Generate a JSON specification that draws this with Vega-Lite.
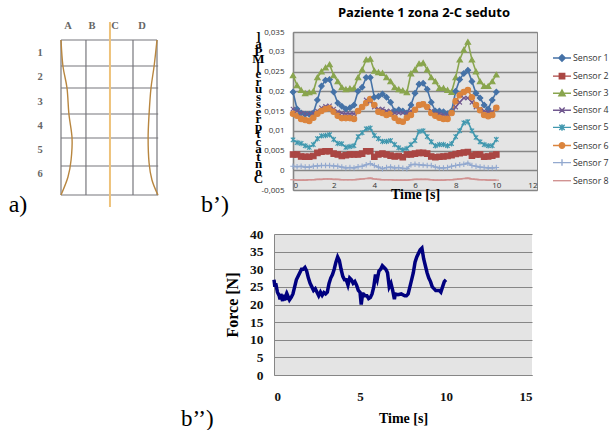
{"$schema":"https://vega.github.io/schema/vega-lite/v6.json","padding":{"left":0,"top":6,"right":0,"bottom":0},"background":"white","bounds":"flush","spacing":202,
"config":{"view":{"stroke":null},"concat":{"spacing":0},"legend":{"orient":"none","legendX":259,"legendY":16,"symbolSize":324,"rowPadding":1.1,"labelFont":"Open Sans","labelFontSize":8.8,"labelColor":"#333333","labelOffset":1,"symbolStrokeWidth":1.4,"symbolOpacity":1}},
"datasets":{
"sensors":[
{"t":0,"Sensor 1":0.0198,"Sensor 2":0.004,"Sensor 3":0.024,"Sensor 4":0.0155,"Sensor 5":0.0077,"Sensor 6":0.0143,"Sensor 7":0.001,"Sensor 8":-0.0024},
{"t":0.2,"Sensor 1":0.0155,"Sensor 2":0.004,"Sensor 3":0.0215,"Sensor 4":0.015,"Sensor 5":0.007,"Sensor 6":0.0138,"Sensor 7":0.0009,"Sensor 8":-0.0025},
{"t":0.4,"Sensor 1":0.0145,"Sensor 2":0.0035,"Sensor 3":0.0203,"Sensor 4":0.0145,"Sensor 5":0.0068,"Sensor 6":0.013,"Sensor 7":0.001,"Sensor 8":-0.0025},
{"t":0.6,"Sensor 1":0.0142,"Sensor 2":0.0034,"Sensor 3":0.0195,"Sensor 4":0.0143,"Sensor 5":0.0062,"Sensor 6":0.0127,"Sensor 7":0.0008,"Sensor 8":-0.0025},
{"t":0.8,"Sensor 1":0.0142,"Sensor 2":0.0034,"Sensor 3":0.0197,"Sensor 4":0.0143,"Sensor 5":0.0058,"Sensor 6":0.0125,"Sensor 7":0.0008,"Sensor 8":-0.0024},
{"t":1,"Sensor 1":0.0145,"Sensor 2":0.0036,"Sensor 3":0.02,"Sensor 4":0.0145,"Sensor 5":0.0065,"Sensor 6":0.0133,"Sensor 7":0.001,"Sensor 8":-0.0024},
{"t":1.2,"Sensor 1":0.0178,"Sensor 2":0.0044,"Sensor 3":0.0235,"Sensor 4":0.015,"Sensor 5":0.008,"Sensor 6":0.0143,"Sensor 7":0.0011,"Sensor 8":-0.0023},
{"t":1.4,"Sensor 1":0.0213,"Sensor 2":0.0047,"Sensor 3":0.025,"Sensor 4":0.0158,"Sensor 5":0.0087,"Sensor 6":0.015,"Sensor 7":0.0012,"Sensor 8":-0.0023},
{"t":1.6,"Sensor 1":0.0228,"Sensor 2":0.0048,"Sensor 3":0.026,"Sensor 4":0.0162,"Sensor 5":0.0088,"Sensor 6":0.0155,"Sensor 7":0.0012,"Sensor 8":-0.0022},
{"t":1.8,"Sensor 1":0.023,"Sensor 2":0.0048,"Sensor 3":0.0268,"Sensor 4":0.0163,"Sensor 5":0.009,"Sensor 6":0.0157,"Sensor 7":0.0012,"Sensor 8":-0.0022},
{"t":2,"Sensor 1":0.0198,"Sensor 2":0.0042,"Sensor 3":0.024,"Sensor 4":0.0155,"Sensor 5":0.0078,"Sensor 6":0.0148,"Sensor 7":0.0011,"Sensor 8":-0.0023},
{"t":2.2,"Sensor 1":0.017,"Sensor 2":0.004,"Sensor 3":0.0225,"Sensor 4":0.0148,"Sensor 5":0.0068,"Sensor 6":0.0138,"Sensor 7":0.001,"Sensor 8":-0.0023},
{"t":2.4,"Sensor 1":0.0162,"Sensor 2":0.0036,"Sensor 3":0.021,"Sensor 4":0.0145,"Sensor 5":0.0067,"Sensor 6":0.0132,"Sensor 7":0.0008,"Sensor 8":-0.0024},
{"t":2.6,"Sensor 1":0.0155,"Sensor 2":0.0038,"Sensor 3":0.0205,"Sensor 4":0.0143,"Sensor 5":0.0058,"Sensor 6":0.0132,"Sensor 7":0.0006,"Sensor 8":-0.0024},
{"t":2.8,"Sensor 1":0.0158,"Sensor 2":0.004,"Sensor 3":0.0207,"Sensor 4":0.0143,"Sensor 5":0.006,"Sensor 6":0.0132,"Sensor 7":0.0007,"Sensor 8":-0.0024},
{"t":3,"Sensor 1":0.0165,"Sensor 2":0.004,"Sensor 3":0.0208,"Sensor 4":0.0143,"Sensor 5":0.0062,"Sensor 6":0.013,"Sensor 7":0.0006,"Sensor 8":-0.0024},
{"t":3.2,"Sensor 1":0.02,"Sensor 2":0.004,"Sensor 3":0.0235,"Sensor 4":0.015,"Sensor 5":0.0085,"Sensor 6":0.015,"Sensor 7":0.0009,"Sensor 8":-0.0023},
{"t":3.4,"Sensor 1":0.021,"Sensor 2":0.0042,"Sensor 3":0.0255,"Sensor 4":0.016,"Sensor 5":0.0095,"Sensor 6":0.016,"Sensor 7":0.001,"Sensor 8":-0.0022},
{"t":3.6,"Sensor 1":0.0235,"Sensor 2":0.0048,"Sensor 3":0.028,"Sensor 4":0.0178,"Sensor 5":0.0105,"Sensor 6":0.017,"Sensor 7":0.0014,"Sensor 8":-0.0021},
{"t":3.8,"Sensor 1":0.0235,"Sensor 2":0.0048,"Sensor 3":0.0282,"Sensor 4":0.0175,"Sensor 5":0.0107,"Sensor 6":0.018,"Sensor 7":0.0017,"Sensor 8":-0.002},
{"t":4,"Sensor 1":0.0185,"Sensor 2":0.0034,"Sensor 3":0.0252,"Sensor 4":0.016,"Sensor 5":0.0088,"Sensor 6":0.0165,"Sensor 7":0.0012,"Sensor 8":-0.0022},
{"t":4.2,"Sensor 1":0.0187,"Sensor 2":0.004,"Sensor 3":0.0248,"Sensor 4":0.0155,"Sensor 5":0.008,"Sensor 6":0.0148,"Sensor 7":0.0008,"Sensor 8":-0.0023},
{"t":4.4,"Sensor 1":0.0193,"Sensor 2":0.0042,"Sensor 3":0.0246,"Sensor 4":0.0155,"Sensor 5":0.0073,"Sensor 6":0.0145,"Sensor 7":0.0004,"Sensor 8":-0.0024},
{"t":4.6,"Sensor 1":0.0185,"Sensor 2":0.004,"Sensor 3":0.0235,"Sensor 4":0.015,"Sensor 5":0.0073,"Sensor 6":0.014,"Sensor 7":0.0007,"Sensor 8":-0.0024},
{"t":4.8,"Sensor 1":0.0172,"Sensor 2":0.0037,"Sensor 3":0.0225,"Sensor 4":0.015,"Sensor 5":0.0075,"Sensor 6":0.0143,"Sensor 7":0.0008,"Sensor 8":-0.0024},
{"t":5,"Sensor 1":0.015,"Sensor 2":0.0035,"Sensor 3":0.021,"Sensor 4":0.0145,"Sensor 5":0.0065,"Sensor 6":0.0133,"Sensor 7":0.0006,"Sensor 8":-0.0025},
{"t":5.2,"Sensor 1":0.0153,"Sensor 2":0.0036,"Sensor 3":0.0205,"Sensor 4":0.0145,"Sensor 5":0.0057,"Sensor 6":0.0125,"Sensor 7":0.0007,"Sensor 8":-0.0025},
{"t":5.4,"Sensor 1":0.015,"Sensor 2":0.0033,"Sensor 3":0.0202,"Sensor 4":0.0145,"Sensor 5":0.0052,"Sensor 6":0.0123,"Sensor 7":0.0005,"Sensor 8":-0.0025},
{"t":5.6,"Sensor 1":0.0145,"Sensor 2":0.004,"Sensor 3":0.0197,"Sensor 4":0.0145,"Sensor 5":0.0055,"Sensor 6":0.0133,"Sensor 7":0.0004,"Sensor 8":-0.0025},
{"t":5.8,"Sensor 1":0.0165,"Sensor 2":0.004,"Sensor 3":0.0245,"Sensor 4":0.015,"Sensor 5":0.0065,"Sensor 6":0.014,"Sensor 7":0.0014,"Sensor 8":-0.0024},
{"t":6,"Sensor 1":0.0195,"Sensor 2":0.0042,"Sensor 3":0.0255,"Sensor 4":0.0155,"Sensor 5":0.0075,"Sensor 6":0.0153,"Sensor 7":0.0015,"Sensor 8":-0.0023},
{"t":6.2,"Sensor 1":0.0218,"Sensor 2":0.0044,"Sensor 3":0.027,"Sensor 4":0.0165,"Sensor 5":0.0098,"Sensor 6":0.0165,"Sensor 7":0.0014,"Sensor 8":-0.0023},
{"t":6.4,"Sensor 1":0.022,"Sensor 2":0.0044,"Sensor 3":0.0272,"Sensor 4":0.0168,"Sensor 5":0.01,"Sensor 6":0.0167,"Sensor 7":0.0013,"Sensor 8":-0.0023},
{"t":6.6,"Sensor 1":0.0205,"Sensor 2":0.0042,"Sensor 3":0.0255,"Sensor 4":0.016,"Sensor 5":0.0085,"Sensor 6":0.016,"Sensor 7":0.0012,"Sensor 8":-0.0023},
{"t":6.8,"Sensor 1":0.0172,"Sensor 2":0.0035,"Sensor 3":0.0235,"Sensor 4":0.015,"Sensor 5":0.0072,"Sensor 6":0.0145,"Sensor 7":0.0012,"Sensor 8":-0.0024},
{"t":7,"Sensor 1":0.015,"Sensor 2":0.0033,"Sensor 3":0.0225,"Sensor 4":0.0145,"Sensor 5":0.0062,"Sensor 6":0.0138,"Sensor 7":0.0008,"Sensor 8":-0.0025},
{"t":7.2,"Sensor 1":0.015,"Sensor 2":0.0034,"Sensor 3":0.0208,"Sensor 4":0.0143,"Sensor 5":0.0065,"Sensor 6":0.0133,"Sensor 7":0.0006,"Sensor 8":-0.0025},
{"t":7.4,"Sensor 1":0.0148,"Sensor 2":0.0035,"Sensor 3":0.0208,"Sensor 4":0.014,"Sensor 5":0.0065,"Sensor 6":0.013,"Sensor 7":0.0006,"Sensor 8":-0.0025},
{"t":7.6,"Sensor 1":0.0143,"Sensor 2":0.0036,"Sensor 3":0.0203,"Sensor 4":0.014,"Sensor 5":0.0062,"Sensor 6":0.013,"Sensor 7":0.0007,"Sensor 8":-0.0024},
{"t":7.8,"Sensor 1":0.015,"Sensor 2":0.0038,"Sensor 3":0.0198,"Sensor 4":0.0145,"Sensor 5":0.0067,"Sensor 6":0.0145,"Sensor 7":0.001,"Sensor 8":-0.0024},
{"t":8,"Sensor 1":0.02,"Sensor 2":0.0041,"Sensor 3":0.0235,"Sensor 4":0.016,"Sensor 5":0.0085,"Sensor 6":0.0175,"Sensor 7":0.0012,"Sensor 8":-0.0023},
{"t":8.2,"Sensor 1":0.023,"Sensor 2":0.0043,"Sensor 3":0.028,"Sensor 4":0.0172,"Sensor 5":0.01,"Sensor 6":0.019,"Sensor 7":0.0014,"Sensor 8":-0.0022},
{"t":8.4,"Sensor 1":0.0245,"Sensor 2":0.0045,"Sensor 3":0.0305,"Sensor 4":0.0183,"Sensor 5":0.012,"Sensor 6":0.0198,"Sensor 7":0.0015,"Sensor 8":-0.0021},
{"t":8.6,"Sensor 1":0.0253,"Sensor 2":0.0046,"Sensor 3":0.0325,"Sensor 4":0.0183,"Sensor 5":0.0123,"Sensor 6":0.0203,"Sensor 7":0.0018,"Sensor 8":-0.002},
{"t":8.8,"Sensor 1":0.0225,"Sensor 2":0.0037,"Sensor 3":0.028,"Sensor 4":0.0172,"Sensor 5":0.01,"Sensor 6":0.0185,"Sensor 7":0.0012,"Sensor 8":-0.0022},
{"t":9,"Sensor 1":0.0195,"Sensor 2":0.004,"Sensor 3":0.025,"Sensor 4":0.016,"Sensor 5":0.0083,"Sensor 6":0.0165,"Sensor 7":0.001,"Sensor 8":-0.0023},
{"t":9.2,"Sensor 1":0.0183,"Sensor 2":0.004,"Sensor 3":0.0225,"Sensor 4":0.0155,"Sensor 5":0.0072,"Sensor 6":0.0152,"Sensor 7":0.0008,"Sensor 8":-0.0024},
{"t":9.4,"Sensor 1":0.0165,"Sensor 2":0.0034,"Sensor 3":0.0213,"Sensor 4":0.015,"Sensor 5":0.0065,"Sensor 6":0.014,"Sensor 7":0.0007,"Sensor 8":-0.0024},
{"t":9.6,"Sensor 1":0.0155,"Sensor 2":0.0035,"Sensor 3":0.0213,"Sensor 4":0.0147,"Sensor 5":0.0062,"Sensor 6":0.0137,"Sensor 7":0.0006,"Sensor 8":-0.0025},
{"t":9.8,"Sensor 1":0.0178,"Sensor 2":0.0037,"Sensor 3":0.0225,"Sensor 4":0.0148,"Sensor 5":0.0062,"Sensor 6":0.014,"Sensor 7":0.0006,"Sensor 8":-0.0025},
{"t":10,"Sensor 1":0.0198,"Sensor 2":0.004,"Sensor 3":0.0242,"Sensor 4":0.0158,"Sensor 5":0.0078,"Sensor 6":0.0158,"Sensor 7":0.0007,"Sensor 8":-0.0025}
],
"force":[{"t":0,"f":27},{"t":0.05,"f":25},{"t":0.1,"f":26},{"t":0.2,"f":23.5},{"t":0.3,"f":22.5},{"t":0.35,"f":21.5},{"t":0.4,"f":23},{"t":0.5,"f":21},{"t":0.55,"f":22.8},{"t":0.6,"f":21.2},{"t":0.7,"f":22.6},{"t":0.75,"f":21.3},{"t":0.8,"f":22.5},{"t":0.9,"f":21.3},{"t":1,"f":22},{"t":1.1,"f":23},{"t":1.2,"f":25},{"t":1.3,"f":27},{"t":1.4,"f":28},{"t":1.5,"f":29},{"t":1.6,"f":30},{"t":1.7,"f":30},{"t":1.8,"f":30.5},{"t":1.9,"f":29.5},{"t":2,"f":27.5},{"t":2.1,"f":26},{"t":2.2,"f":25},{"t":2.3,"f":24},{"t":2.4,"f":24.5},{"t":2.5,"f":23.5},{"t":2.6,"f":22.5},{"t":2.7,"f":23.5},{"t":2.8,"f":22.6},{"t":2.9,"f":23.4},{"t":3,"f":23},{"t":3.1,"f":23.5},{"t":3.2,"f":26},{"t":3.3,"f":27.5},{"t":3.4,"f":28.5},{"t":3.5,"f":30},{"t":3.6,"f":32},{"t":3.7,"f":33.5},{"t":3.8,"f":32.5},{"t":3.9,"f":30},{"t":4,"f":28},{"t":4.1,"f":27},{"t":4.2,"f":27},{"t":4.3,"f":25.5},{"t":4.4,"f":27.5},{"t":4.5,"f":27},{"t":4.6,"f":26},{"t":4.7,"f":26.5},{"t":4.8,"f":25.5},{"t":4.9,"f":24},{"t":5,"f":23.5},{"t":5.07,"f":20},{"t":5.15,"f":23},{"t":5.2,"f":23},{"t":5.3,"f":22.5},{"t":5.4,"f":22.5},{"t":5.5,"f":21.7},{"t":5.6,"f":22},{"t":5.7,"f":23},{"t":5.8,"f":25},{"t":5.9,"f":28.5},{"t":6,"f":27},{"t":6.1,"f":29.5},{"t":6.2,"f":30},{"t":6.3,"f":31},{"t":6.4,"f":30.5},{"t":6.5,"f":30},{"t":6.6,"f":29},{"t":6.7,"f":25},{"t":6.8,"f":26},{"t":6.9,"f":24},{"t":7,"f":21.5},{"t":7.05,"f":23},{"t":7.2,"f":22.8},{"t":7.4,"f":23},{"t":7.6,"f":22.5},{"t":7.7,"f":22.5},{"t":7.8,"f":23},{"t":7.9,"f":25},{"t":8,"f":27},{"t":8.1,"f":29},{"t":8.2,"f":32},{"t":8.3,"f":33.5},{"t":8.4,"f":34.5},{"t":8.5,"f":35.5},{"t":8.6,"f":36},{"t":8.7,"f":33},{"t":8.8,"f":31},{"t":8.9,"f":29},{"t":9,"f":27.5},{"t":9.1,"f":26.5},{"t":9.2,"f":25},{"t":9.3,"f":24.5},{"t":9.4,"f":24},{"t":9.5,"f":24},{"t":9.6,"f":24},{"t":9.7,"f":23.5},{"t":9.8,"f":25},{"t":9.9,"f":26.5},{"t":10,"f":27}]
},
"vconcat":[
{"bounds":"flush","spacing":43,"hconcat":[
{"width":250,"height":158,"view":{"stroke":null},
"encoding":{"x":{"field":"x","type":"quantitative","axis":null,"scale":{"domain":[-2.5417,7.875],"nice":false,"zero":false}},"y":{"field":"y","type":"quantitative","axis":null,"scale":{"domain":[-0.32,6],"reverse":true,"nice":false,"zero":false}}},
"layer":[
{"data":{"values":[{"x":0,"y":0,"y2":6.2},{"x":1.04,"y":0,"y2":6.2},{"x":3,"y":0,"y2":6.2},{"x":4,"y":0,"y2":6.2}]},"mark":{"type":"rule","color":"#77777c","strokeWidth":1.2},"encoding":{"y2":{"field":"y2"}}},
{"data":{"values":[{"x":0,"x2":4,"y":0},{"x":0,"x2":4.05,"y":1.04},{"x":0,"x2":4.05,"y":1.92},{"x":0,"x2":4.05,"y":2.96},{"x":0,"x2":4.05,"y":3.92},{"x":0,"x2":4.05,"y":5.04},{"x":0,"x2":4.05,"y":6.2}]},"mark":{"type":"rule","color":"#77777c","strokeWidth":1.2},"encoding":{"x2":{"field":"x2"}}},
{"data":{"values":[{"x":2.04,"y":-0.72,"y2":6.68}]},"mark":{"type":"rule","color":"#eec27a","strokeWidth":2},"encoding":{"y2":{"field":"y2"}}},
{"data":{"values":[{"x":0,"y":0,"o":0,"c":"l"},{"x":0.08,"y":1.04,"o":1,"c":"l"},{"x":0.25,"y":1.92,"o":2,"c":"l"},{"x":0.33,"y":2.96,"o":3,"c":"l"},{"x":0.46,"y":3.92,"o":4,"c":"l"},{"x":0.42,"y":4.8,"o":5,"c":"l"},{"x":0.29,"y":5.48,"o":6,"c":"l"},{"x":0,"y":6.2,"o":7,"c":"l"},{"x":4,"y":0,"o":0,"c":"r"},{"x":3.88,"y":1.04,"o":1,"c":"r"},{"x":3.75,"y":1.92,"o":2,"c":"r"},{"x":3.67,"y":2.96,"o":3,"c":"r"},{"x":3.63,"y":3.92,"o":4,"c":"r"},{"x":3.67,"y":4.92,"o":5,"c":"r"},{"x":3.79,"y":5.6,"o":6,"c":"r"},{"x":4.04,"y":6.2,"o":7,"c":"r"}]},"mark":{"type":"line","color":"#b8863f","strokeWidth":1.4,"interpolate":"cardinal"},"encoding":{"order":{"field":"o"},"detail":{"field":"c"}}},
{"data":{"values":[{"x":0.29,"y":-0.56,"l":"A"},{"x":1.29,"y":-0.56,"l":"B"},{"x":2.25,"y":-0.56,"l":"C"},{"x":3.38,"y":-0.56,"l":"D"},{"x":-0.875,"y":0.52,"l":"1"},{"x":-0.875,"y":1.48,"l":"2"},{"x":-0.875,"y":2.48,"l":"3"},{"x":-0.875,"y":3.44,"l":"4"},{"x":-0.875,"y":4.4,"l":"5"},{"x":-0.875,"y":5.36,"l":"6"}]},"mark":{"type":"text","font":"Liberation Serif","fontSize":10.5,"fontWeight":"bold","color":"#666666"},"encoding":{"text":{"field":"l"}}},
{"data":{"values":[{"x":-1.79,"y":6.6,"l":"a)"},{"x":6.42,"y":6.6,"l":"b’)"}]},"mark":{"type":"text","font":"Liberation Serif","fontSize":24,"color":"#000000"},"encoding":{"text":{"field":"l"}}}
]},
{"width":244,"height":158,"view":{"fill":"#e4e4e4","stroke":"#888888"},
"title":{"text":"Paziente 1 zona 2-C seduto","font":"Open Sans","fontSize":13,"fontWeight":"bold","color":"#000000","anchor":"middle","offset":8,"dx":9},
"data":{"name":"sensors"},"transform":[{"fold":["Sensor 1","Sensor 2","Sensor 3","Sensor 4","Sensor 5","Sensor 6","Sensor 7","Sensor 8"],"as":["s","v"]},{"calculate":"{'Sensor 1':'diamond','Sensor 2':'square','Sensor 3':'triangle-up','Sensor 4':'M-.8,-.8L.8,.8M-.8,.8L.8,-.8','Sensor 5':'M-.8,-.8L.8,.8M-.8,.8L.8,-.8M0,-1L0,1','Sensor 6':'circle','Sensor 7':'M-1,0L1,0M0,-1L0,1','Sensor 8':'M-1,0L1,0'}[datum.s]","as":"mk"}],
"encoding":{
"x":{"field":"t","type":"quantitative","scale":{"domain":[0,12],"nice":false},"axis":{"values":[0,2,4,6,8,10,12],"title":"Time [s]","grid":false,"ticks":false,"domain":false,"labelFont":"Open Sans","labelFontSize":8,"labelColor":"#333333","labelPadding":-9,"titleFont":"Liberation Serif","titleFontSize":14,"titleFontWeight":"bold","titleColor":"#000000","titlePadding":-3}},
"y":{"field":"v","type":"quantitative","scale":{"domain":[-0.005,0.035],"nice":false},"axis":{"values":[-0.005,0,0.005,0.01,0.015,0.02,0.025,0.03,0.035],"labelExpr":"replace(replace(format(datum.value,'.3~f'),'.',','),'−','-')","gridColor":"#868686","gridWidth":1.6,"gridOpacity":1,"ticks":false,"domainColor":"#868686","domainWidth":1.6,"labelFont":"Open Sans","labelFontSize":8,"labelColor":"#333333","labelPadding":9,
"title":["]","a","P","M","[","e","r","u","s","s","e","r","p","t","c","a","t","n","o","C"],"titleAngle":0,"titleFont":"Liberation Serif","titleFontSize":13,"titleFontWeight":"bold","titleColor":"#000000","titleLineHeight":7.5,"titleAlign":"center","titleBaseline":"top","titleAnchor":"middle","titleX":-35,"titleY":-2}}},
"resolve":{"scale":{"stroke":"independent","fill":"independent","shape":"independent"}},
"layer":[
{"mark":{"type":"line","strokeWidth":1.6},"encoding":{"stroke":{"field":"s","type":"nominal","legend":null,"scale":{"range":["#4572a7","#aa4643","#89a54e","#71588f","#4198af","#db843d","#93a9cf","#d19392"]}}}},
{"mark":{"type":"point","filled":true,"strokeWidth":1.1,"opacity":1},
"encoding":{"size":{"value":30},"stroke":{"field":"s","type":"nominal","legend":null,"scale":{"range":["#4572a7","#aa4643","#89a54e","#71588f","#4198af","#db843d","#93a9cf","#d19392"]}},"fill":{"field":"s","type":"nominal","legend":null,"scale":{"range":["#4572a7","#aa4643","#89a54e","#71588f","#4198af","#db843d","#93a9cf","#d19392"]}},"shape":{"field":"mk","type":"nominal","scale":null}}},
{"mark":{"type":"point","filled":true,"opacity":0},
"encoding":{"size":{"value":1},"stroke":{"field":"s","type":"nominal","title":null,"scale":{"range":["#4572a7","#aa4643","#89a54e","#71588f","#4198af","#db843d","#93a9cf","#d19392"]}},"fill":{"field":"s","type":"nominal","title":null,"scale":{"range":["#4572a7","#aa4643","#89a54e","#71588f","#4198af","#db843d","#93a9cf","#d19392"]}},
"shape":{"field":"s","type":"nominal","title":null,"scale":{"range":["M-1,0L1,0M-.36,0L0,-.36L.36,0L0,.36Z","M-1,0L1,0M-.3,-.3L.3,-.3L.3,.3L-.3,.3Z","M-1,0L1,0M-.35,.3L0,-.35L.35,.3Z","M-1,0L1,0M-.3,-.3L.3,.3M-.3,.3L.3,-.3","M-1,0L1,0M-.3,-.3L.3,.3M-.3,.3L.3,-.3M0,-.36L0,.36","M-1,0L1,0M-.3,0A.3,.3 0 1 1 .3,0A.3,.3 0 1 1 -.3,0Z","M-1,0L1,0M0,-.36L0,.36","M-1,0L1,0"]}}}}
]}
]},
{"bounds":"flush","spacing":0,"hconcat":[
{"width":274,"height":141,"view":{"stroke":null},"data":{"values":[{"x":0.72,"y":-0.31,"l":"b’’)"}]},"mark":{"type":"text","font":"Liberation Serif","fontSize":23,"color":"#000000"},"encoding":{"x":{"field":"x","type":"quantitative","axis":null,"scale":{"domain":[0,1]}},"y":{"field":"y","type":"quantitative","axis":null,"scale":{"domain":[0,1]}},"text":{"field":"l"}}},
{"width":258,"height":141,"view":{"fill":"#e4e4e4","stroke":null},"data":{"name":"force"},"mark":{"type":"line","color":"#00007f","strokeWidth":3.5,"interpolate":"linear"},
"encoding":{
"x":{"field":"t","type":"quantitative","scale":{"domain":[0,15],"nice":false},"axis":{"values":[0,5,10,15],"title":"Time [s]","grid":false,"ticks":false,"domainColor":"#868686","labelFont":"Liberation Serif","labelFontSize":13,"labelFontWeight":"bold","labelColor":"#111111","labelPadding":15,"titleFont":"Liberation Serif","titleFontSize":14,"titleFontWeight":"bold","titleColor":"#000000","titlePadding":8}},
"y":{"field":"f","type":"quantitative","scale":{"domain":[0,40],"nice":false},"axis":{"values":[0,5,10,15,20,25,30,35,40],"title":"Force [N]","gridColor":"#868686","gridWidth":1,"gridOpacity":1,"ticks":false,"domainColor":"#868686","labelFont":"Liberation Serif","labelFontSize":13.5,"labelFontWeight":"bold","labelColor":"#111111","labelPadding":11,"titleFont":"Liberation Serif","titleFontSize":16,"titleFontWeight":"bold","titleColor":"#000000","titlePadding":9}}}}
]}
]}
